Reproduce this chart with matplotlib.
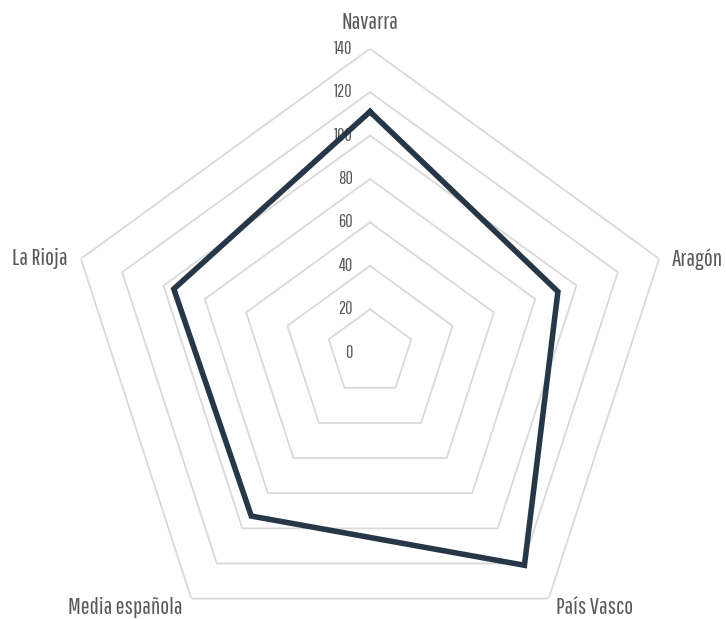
import numpy as np
import matplotlib
matplotlib.use("Agg")
import matplotlib.pyplot as plt

regions = ["Navarra", "Aragón", "País Vasco", "Media española", "La Rioja"]
values = [111, 91, 121, 93, 95]
ring_levels = [20, 40, 60, 80, 100, 120, 140]
tick_labels = ["0", "20", "40", "60", "80", "100", "120", "140"]

font = ["Pathway Gothic One", "DejaVu Sans"]
line_color = "#263747"
grid_color = "#d9d9d9"
text_color = "#595959"

n = len(regions)
angles = np.linspace(0, 2 * np.pi, n, endpoint=False)
closed = np.concatenate([angles, angles[:1]])

fig = plt.figure(figsize=(7.26, 6.19), dpi=100)
ax = fig.add_axes([66 / 726, -37.7 / 619, 608 / 726, 608 / 619], projection="polar")
ax.set_theta_offset(np.pi / 2)
ax.set_theta_direction(-1)
ax.set_ylim(0, 140)
ax.grid(False)
ax.spines["polar"].set_visible(False)
ax.set_xticks([])
ax.set_yticks([])
ax.patch.set_alpha(0)

# pentagon grid
for lv in ring_levels:
    ax.plot(closed, [lv] * (n + 1), color=grid_color, lw=1.3, zorder=1)

# radial labels on the Navarra axis
for i, lab in enumerate(tick_labels):
    ax.annotate(lab, xy=(0, i * 20), xytext=(-12.5, 0), textcoords="offset points",
                ha="right", va="center", fontsize=13, color=text_color, family=font)

# data line
data = values + values[:1]
ax.plot(closed, data, color=line_color, lw=4, solid_joinstyle="miter", zorder=3)

# category labels
offsets = [(0, 19), (9, 0), (5.5, -6.5), (-6, -6.5), (-9.5, 0)]
aligns = [("center", "center"), ("left", "center"), ("left", "center"),
          ("right", "center"), ("right", "center")]
for ang, name, off, (ha, va) in zip(angles, regions, offsets, aligns):
    ax.annotate(name, xy=(ang, 140), xytext=off, textcoords="offset points",
                ha=ha, va=va, fontsize=17, color=text_color, family=font,
                annotation_clip=False)

fig.savefig("out.png")
